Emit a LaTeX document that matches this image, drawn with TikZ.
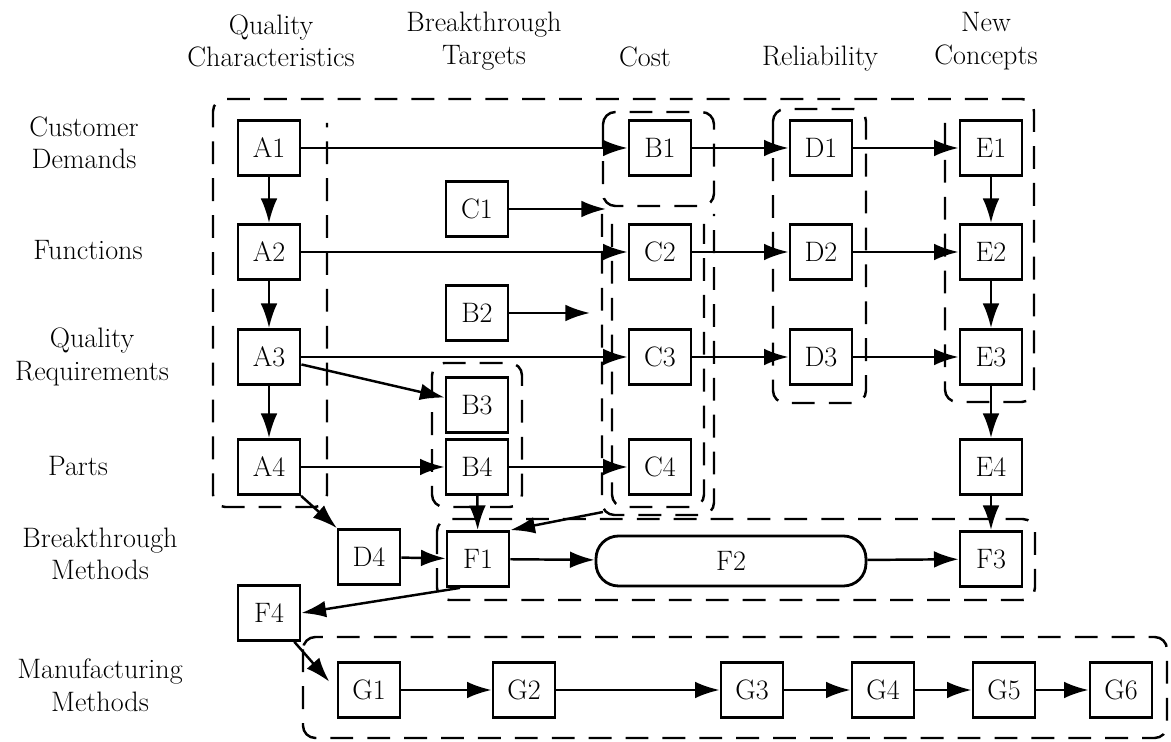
\documentclass[tikz,border=0pt]{standalone}
\usepackage{fontspec}
\usetikzlibrary{arrows.meta,calc}

\tikzset{
  blk/.style={draw, line width=1.6pt, minimum width=1.24cm, minimum height=1.1cm, inner sep=0pt},
  grp/.style={line width=1.4pt, dash pattern=on 13pt off 8pt, rounded corners=7pt},
  lbl/.style={align=center},
}

\begin{document}
\begin{tikzpicture}[x=0.02cm, y=-0.02cm, >={Latex[length=14pt,width=9.5pt]}, line width=1.4pt, font=\fontsize{16}{18.5}\selectfont]
  \useasboundingbox (0,0) rectangle (1171,742);

  % Spaltenkoepfe
  \node[lbl] (hqual) at (271,41) {Quality\\Characteristics};
  \node[lbl] (htarg) at (484,41) {Breakthrough\\Targets};
  \node[lbl] (hcost) at (645,57) {Cost};
  \node[lbl] (hrel) at (820,59) {Reliability};
  \node[lbl] (hnew) at (986,41) {New\\Concepts};

  % Zeilenkoepfe
  \node[lbl] (rdem) at (84,143) {Customer\\Demands};
  \node[lbl] (rfun) at (88,250) {Functions};
  \node[lbl] (rreq) at (92,357) {Quality\\Requirements};
  \node[lbl] (rpar) at (78,466) {Parts};
  \node[lbl] (rbrk) at (100,554) {Breakthrough\\Methods};
  \node[lbl] (rman) at (100,685) {Manufacturing\\Methods};

  % Gruppen (gestrichelt)
  \draw[grp] (945,123) -- (945,402) -- (1034,402) -- (1034,99) -- (213,99) -- (213,507) -- (327,507) -- (327,123);
  \draw[grp] (603,112) rectangle (714,206);
  \draw[grp] (602,214) -- (602,515) -- (714,515) -- (714,214);
  \draw[grp] (612,224) -- (612,507) -- (704,507) -- (704,224);
  \draw[grp] (773,109) rectangle (866,403);
  \draw[grp] (432,363) rectangle (522,507);
  \draw[grp] (437,519) rectangle (1035,600);
  \draw[grp] (303,637) rectangle (1167,738);

  % Kaesten
  \node[blk] (A1) at (269,148) {A1};
  \node[blk] (A2) at (269,252) {A2};
  \node[blk] (A3) at (269,357) {A3};
  \node[blk] (A4) at (269,467) {A4};
  \node[blk] (C1) at (477,209) {C1};
  \node[blk] (B2) at (477,313) {B2};
  \node[blk] (B3) at (477,405) {B3};
  \node[blk] (B4) at (477,467) {B4};
  \node[blk] (B1) at (660,148) {B1};
  \node[blk] (C2) at (660,252) {C2};
  \node[blk] (C3) at (660,357) {C3};
  \node[blk] (C4) at (660,467) {C4};
  \node[blk] (D1) at (821,148) {D1};
  \node[blk] (D2) at (821,252) {D2};
  \node[blk] (D3) at (821,357) {D3};
  \node[blk] (E1) at (991,148) {E1};
  \node[blk] (E2) at (991,252) {E2};
  \node[blk] (E3) at (991,357) {E3};
  \node[blk] (E4) at (991,467) {E4};
  \node[blk] (D4) at (369,557) {D4};
  \node[blk] (F1) at (478,559) {F1};
  \node[blk, minimum width=5.4cm, minimum height=1cm, rounded corners=0.45cm] (F2) at (731,561) {F2};
  \node[blk] (F3) at (991,559) {F3};
  \node[blk] (F4) at (269,613) {F4};
  \node[blk] (G1) at (369,690) {G1};
  \node[blk] (G2) at (524,690) {G2};
  \node[blk] (G3) at (752,690) {G3};
  \node[blk] (G4) at (883,690) {G4};
  \node[blk] (G5) at (1004,690) {G5};
  \node[blk] (G6) at (1121,690) {G6};

  % freie Enden
  \coordinate (c1end) at (606,209);
  \coordinate (b2end) at (590,313);
  \coordinate (cgrp) at (603,512);

  % Pfeile
  \draw[->] (A1) -- (B1);
  \draw[->] (A1) -- (A2);
  \draw[->] (A2) -- (A3);
  \draw[->] (A3) -- (A4);
  \draw[->] (A2) -- (C2);
  \draw[->] (A3) -- (C3);
  \draw[->] (A3) -- (B3);
  \draw[->] (A4) -- (B4);
  \draw[->] (B4) -- (C4);
  \draw[->] (C1) -- (c1end);
  \draw[->] (B2) -- (b2end);
  \draw[->] (B1) -- (D1);
  \draw[->] (C2) -- (D2);
  \draw[->] (C3) -- (D3);
  \draw[->] (D1) -- (E1);
  \draw[->] (D2) -- (E2);
  \draw[->] (D3) -- (E3);
  \draw[->] (E1) -- (E2);
  \draw[->] (E2) -- (E3);
  \draw[->] (E3) -- (E4);
  \draw[->] (E4) -- (F3);
  \draw[->] (A4) -- (D4);
  \draw[->] (D4) -- (F1);
  \draw[->] (B4) -- (F1);
  \draw[->] (cgrp) -- (F1.north east);
  \draw[->] (F1) -- (F2);
  \draw[->] (F2) -- (F3);
  \draw[->] ($(F1.south)+(-18,0)$) -- (F4.east);
  \draw[->, shorten >=0.22cm] (F4) -- (G1.west);
  \draw[->] (G1) -- (G2);
  \draw[->] (G2) -- (G3);
  \draw[->] (G3) -- (G4);
  \draw[->] (G4) -- (G5);
  \draw[->] (G5) -- (G6);
\end{tikzpicture}
\end{document}
